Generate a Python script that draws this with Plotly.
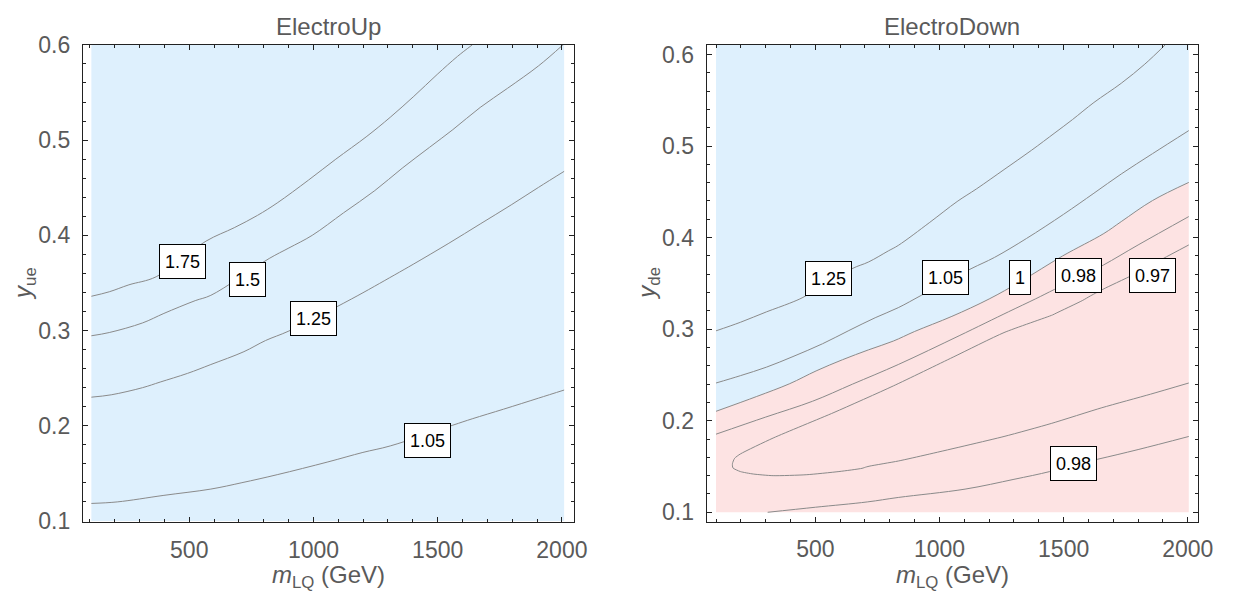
import plotly.graph_objects as go

# ---------------- data ----------------
FONT = "Liberation Sans, Arial, sans-serif"

x_tick_values = [500, 1000, 1500, 2000]
y_tick_values = [0.1, 0.2, 0.3, 0.4, 0.5, 0.6]
y_tick_labels = ["0.1", "0.2", "0.3", "0.4", "0.5", "0.6"]

panel_titles = ["ElectroUp", "ElectroDown"]

# ElectroUp scan domain
up_mass_range = [106, 2009]
up_coupling_range = [0.1, 0.6]

up_c175_m = [106, 178, 257, 367, 568, 681, 775, 854, 980, 1090, 1215, 1309, 1404, 1498, 1580, 1639]
up_c175_y = [0.336, 0.3407, 0.348, 0.3565, 0.394, 0.408, 0.421, 0.434, 0.458, 0.480, 0.504, 0.524, 0.546, 0.569, 0.588, 0.6]

up_c150_m = [106, 178, 312, 398, 524, 587, 822, 901, 995, 1121, 1247, 1357, 1467, 1561, 1671, 1781, 1906, 2004]
up_c150_y = [0.2945, 0.2979, 0.308, 0.318, 0.3314, 0.337, 0.3757, 0.3867, 0.4, 0.4236, 0.447, 0.4705, 0.4924, 0.511, 0.5343, 0.5544, 0.578, 0.6]

up_c125_m = [106, 186, 312, 383, 493, 587, 720, 807, 901, 1152, 1325, 1404, 1545, 1671, 1796, 1906, 2009]
up_c125_y = [0.230, 0.2325, 0.240, 0.2459, 0.255, 0.2643, 0.2778, 0.2895, 0.2995, 0.333, 0.3582, 0.370, 0.3917, 0.4119, 0.432, 0.4504, 0.4672]

up_c105_m = [106, 210, 398, 587, 712, 854, 1058, 1199, 1309, 1561, 1639, 1765, 1906, 2009]
up_c105_y = [0.1184, 0.120, 0.1269, 0.1335, 0.1402, 0.1486, 0.162, 0.172, 0.1788, 0.2006, 0.2073, 0.2174, 0.229, 0.2375]

up_label_text = ["1.75", "1.5", "1.25", "1.05"]
up_label_m = [471, 734, 1001, 1458]
up_label_y = [0.3724, 0.3535, 0.313, 0.1847]

# ElectroDown scan domain
down_mass_range = [100, 2004]
down_coupling_range = [0.1, 0.6105]

down_c125_m = [100, 198, 304, 397, 450, 648, 715, 794, 834, 961, 1071, 1150, 1260, 1370, 1465, 1536, 1622, 1732, 1827, 1909]
down_c125_y = [0.2982, 0.3075, 0.319, 0.3284, 0.3347, 0.3661, 0.3735, 0.3855, 0.3915, 0.4167, 0.4394, 0.4534, 0.4743, 0.4953, 0.5145, 0.529, 0.5476, 0.5686, 0.5895, 0.6105]

down_c105_m = [100, 198, 304, 410, 529, 635, 741, 834, 927, 1127, 1221, 1350, 1500, 1622, 1732, 1858, 2004]
down_c105_y = [0.2412, 0.2492, 0.2586, 0.2701, 0.2841, 0.2985, 0.3125, 0.3235, 0.337, 0.366, 0.3783, 0.399, 0.4255, 0.4485, 0.4695, 0.4917, 0.5169]

# contour 1: boundary between the regions above / below 1
down_c100_m = [100, 264, 397, 503, 609, 715, 814, 900, 1050, 1200, 1326, 1496, 1662, 1732, 1858, 2004]
down_c100_y = [0.2103, 0.2265, 0.2405, 0.2544, 0.2666, 0.2775, 0.287, 0.2975, 0.314, 0.333, 0.352, 0.380, 0.4045, 0.4175, 0.4405, 0.4603]

down_c098a_m = [100, 300, 489, 650, 834, 1079, 1278, 1386, 1463, 1561, 1660, 1800, 2004]
down_c098a_y = [0.1853, 0.204, 0.2213, 0.240, 0.2614, 0.2928, 0.319, 0.333, 0.3434, 0.356, 0.370, 0.392, 0.423]

down_c097_m = [2004, 1900, 1800, 1669, 1609, 1575, 1470, 1455, 1260, 1055, 814, 575, 330, 198, 175, 166,
               168, 198, 250, 330, 463, 595, 688, 705, 720, 834, 950, 1260, 1450, 1654, 1850, 2004]
down_c097_y = [0.392, 0.377, 0.362, 0.345, 0.3365, 0.3312, 0.3175, 0.3155, 0.2963, 0.2695, 0.238, 0.209, 0.1811, 0.1637, 0.159, 0.153,
               0.1485, 0.1445, 0.1418, 0.14, 0.141, 0.1445, 0.148, 0.1495, 0.1505, 0.156, 0.163, 0.1828, 0.197, 0.2142, 0.229, 0.2412]

down_c098b_m = [308, 500, 709, 834, 1103, 1300, 1444, 1540, 1638, 1800, 2004]
down_c098b_y = [0.1, 0.1055, 0.1113, 0.1162, 0.1253, 0.136, 0.1445, 0.152, 0.158, 0.1685, 0.1828]

down_label_text = ["1.25", "1.05", "1", "0.98", "0.97", "0.98"]
down_label_m = [551, 1025, 1326, 1561, 1856, 1540]
down_label_y = [0.3555, 0.3563, 0.3563, 0.3583, 0.3581, 0.1529]

# ---------------- styling ----------------
W, H = 1241, 601
BLUE = "#DEF0FD"
PINK = "#FDE3E3"
LINE = "#8a8a8a"
FRAME = "#222222"
TXT = "#5a5a5a"

fig = go.Figure()

# ElectroUp background region
fig.add_trace(go.Scatter(
    x=[up_mass_range[0], up_mass_range[1], up_mass_range[1], up_mass_range[0]],
    y=[up_coupling_range[0], up_coupling_range[0], up_coupling_range[1], up_coupling_range[1]],
    fill="toself", fillcolor=BLUE, mode="none", xaxis="x", yaxis="y", hoverinfo="skip"))

# ElectroDown: region above contour 1 (blue) and below (pink)
fig.add_trace(go.Scatter(
    x=down_c100_m + [down_mass_range[1], down_mass_range[0]],
    y=down_c100_y + [down_coupling_range[1], down_coupling_range[1]],
    fill="toself", fillcolor=BLUE, mode="none", xaxis="x2", yaxis="y2", hoverinfo="skip"))
fig.add_trace(go.Scatter(
    x=down_c100_m + [down_mass_range[1], down_mass_range[0]],
    y=down_c100_y + [down_coupling_range[0], down_coupling_range[0]],
    fill="toself", fillcolor=PINK, mode="none", xaxis="x2", yaxis="y2", hoverinfo="skip"))

smooth_line = dict(color=LINE, width=1, shape="spline", smoothing=1.0)
nose_line = dict(color=LINE, width=1, shape="spline", smoothing=0.6)

for mx, my in [(up_c175_m, up_c175_y), (up_c150_m, up_c150_y), (up_c125_m, up_c125_y), (up_c105_m, up_c105_y)]:
    fig.add_trace(go.Scatter(x=mx, y=my, mode="lines", line=smooth_line,
                             xaxis="x", yaxis="y", hoverinfo="skip"))

for mx, my in [(down_c125_m, down_c125_y), (down_c105_m, down_c105_y), (down_c100_m, down_c100_y),
               (down_c098a_m, down_c098a_y), (down_c098b_m, down_c098b_y)]:
    fig.add_trace(go.Scatter(x=mx, y=my, mode="lines", line=smooth_line,
                             xaxis="x2", yaxis="y2", hoverinfo="skip"))
fig.add_trace(go.Scatter(x=down_c097_m, y=down_c097_y, mode="lines", line=nose_line,
                         xaxis="x2", yaxis="y2", hoverinfo="skip"))

label_box = dict(showarrow=False, bgcolor="white", bordercolor="black", borderwidth=1, borderpad=5,
                 height=23, font=dict(family=FONT, size=18, color="black"))
annotations = []
for t, mx, my in zip(up_label_text, up_label_m, up_label_y):
    annotations.append(dict(x=mx, y=my, xref="x", yref="y", text=t, **label_box))
for t, mx, my in zip(down_label_text, down_label_m, down_label_y):
    annotations.append(dict(x=mx, y=my, xref="x2", yref="y2", text=t, **label_box))

# pixel geometry of the two frames
L1, R1, T1, B1 = 84, 581.7, 33, 531
L2, R2, T2, B2 = 716, 1213.3, 33, 530.7

def px_x(p):
    return p / W

def px_y(p):
    return (H - p) / H

# titles
for (L, R), title in zip([(L1, R1), (L2, R2)], panel_titles):
    annotations.append(dict(x=px_x((L + R) / 2), y=px_y(14), xref="paper", yref="paper", text=title,
                            showarrow=False, xanchor="center", yanchor="middle",
                            font=dict(family=FONT, size=24, color=TXT)))
# x axis labels
for L, R in [(L1, R1), (L2, R2)]:
    annotations.append(dict(x=px_x((L + R) / 2), y=px_y(588), xref="paper", yref="paper",
                            text="<i>m</i><sub>LQ</sub> (GeV)", showarrow=False,
                            xanchor="center", yanchor="middle",
                            font=dict(family=FONT, size=24, color=TXT)))
# y axis labels
for L, T, B, lab in [(L1, T1, B1, "ue"), (L2, T2, B2, "de")]:
    annotations.append(dict(x=px_x(L - 59), y=px_y((T + B) / 2), xref="paper", yref="paper",
                            text="<i>y</i><sub>%s</sub>" % lab, showarrow=False, textangle=-90,
                            xanchor="center", yanchor="middle", font=dict(family=FONT, size=24, color=TXT)))

def xaxis(domain, rng, anchor):
    return dict(domain=domain, range=rng, anchor=anchor, showline=True, linecolor=FRAME, linewidth=1.2,
                mirror="ticks", ticks="inside", ticklen=5, tickwidth=1, tickcolor=FRAME,
                tickvals=x_tick_values, showgrid=False, zeroline=False, ticklabelstandoff=7,
                tickfont=dict(family=FONT, size=23, color=TXT),
                minor=dict(ticks="inside", ticklen=3, tickwidth=1, tickcolor=FRAME, dtick=100, tick0=0, showgrid=False))

def yaxis(domain, rng, anchor):
    return dict(domain=domain, range=rng, anchor=anchor, showline=True, linecolor=FRAME, linewidth=1.2,
                mirror="ticks", ticks="inside", ticklen=5, tickwidth=1, tickcolor=FRAME,
                tickvals=y_tick_values, ticktext=y_tick_labels, showgrid=False, zeroline=False,
                ticklabelstandoff=7,
                tickfont=dict(family=FONT, size=23, color=TXT),
                minor=dict(ticks="inside", ticklen=3, tickwidth=1, tickcolor=FRAME, dtick=0.02, tick0=0, showgrid=False))

fig.update_layout(
    width=W, height=H, margin=dict(l=0, r=0, t=0, b=0),
    paper_bgcolor="white", plot_bgcolor="white", showlegend=False,
    xaxis=xaxis([px_x(L1), px_x(R1)], [72, 2049.5], "y"),
    yaxis=yaxis([px_y(B1), px_y(T1)], [0.099, 0.6003], "x"),
    xaxis2=xaxis([px_x(L2), px_x(R2)], [62.7, 2039.8], "y2"),
    yaxis2=yaxis([px_y(B2), px_y(T2)], [0.0898, 0.6108], "x2"),
    annotations=annotations,
)

fig.write_html("out.html")
